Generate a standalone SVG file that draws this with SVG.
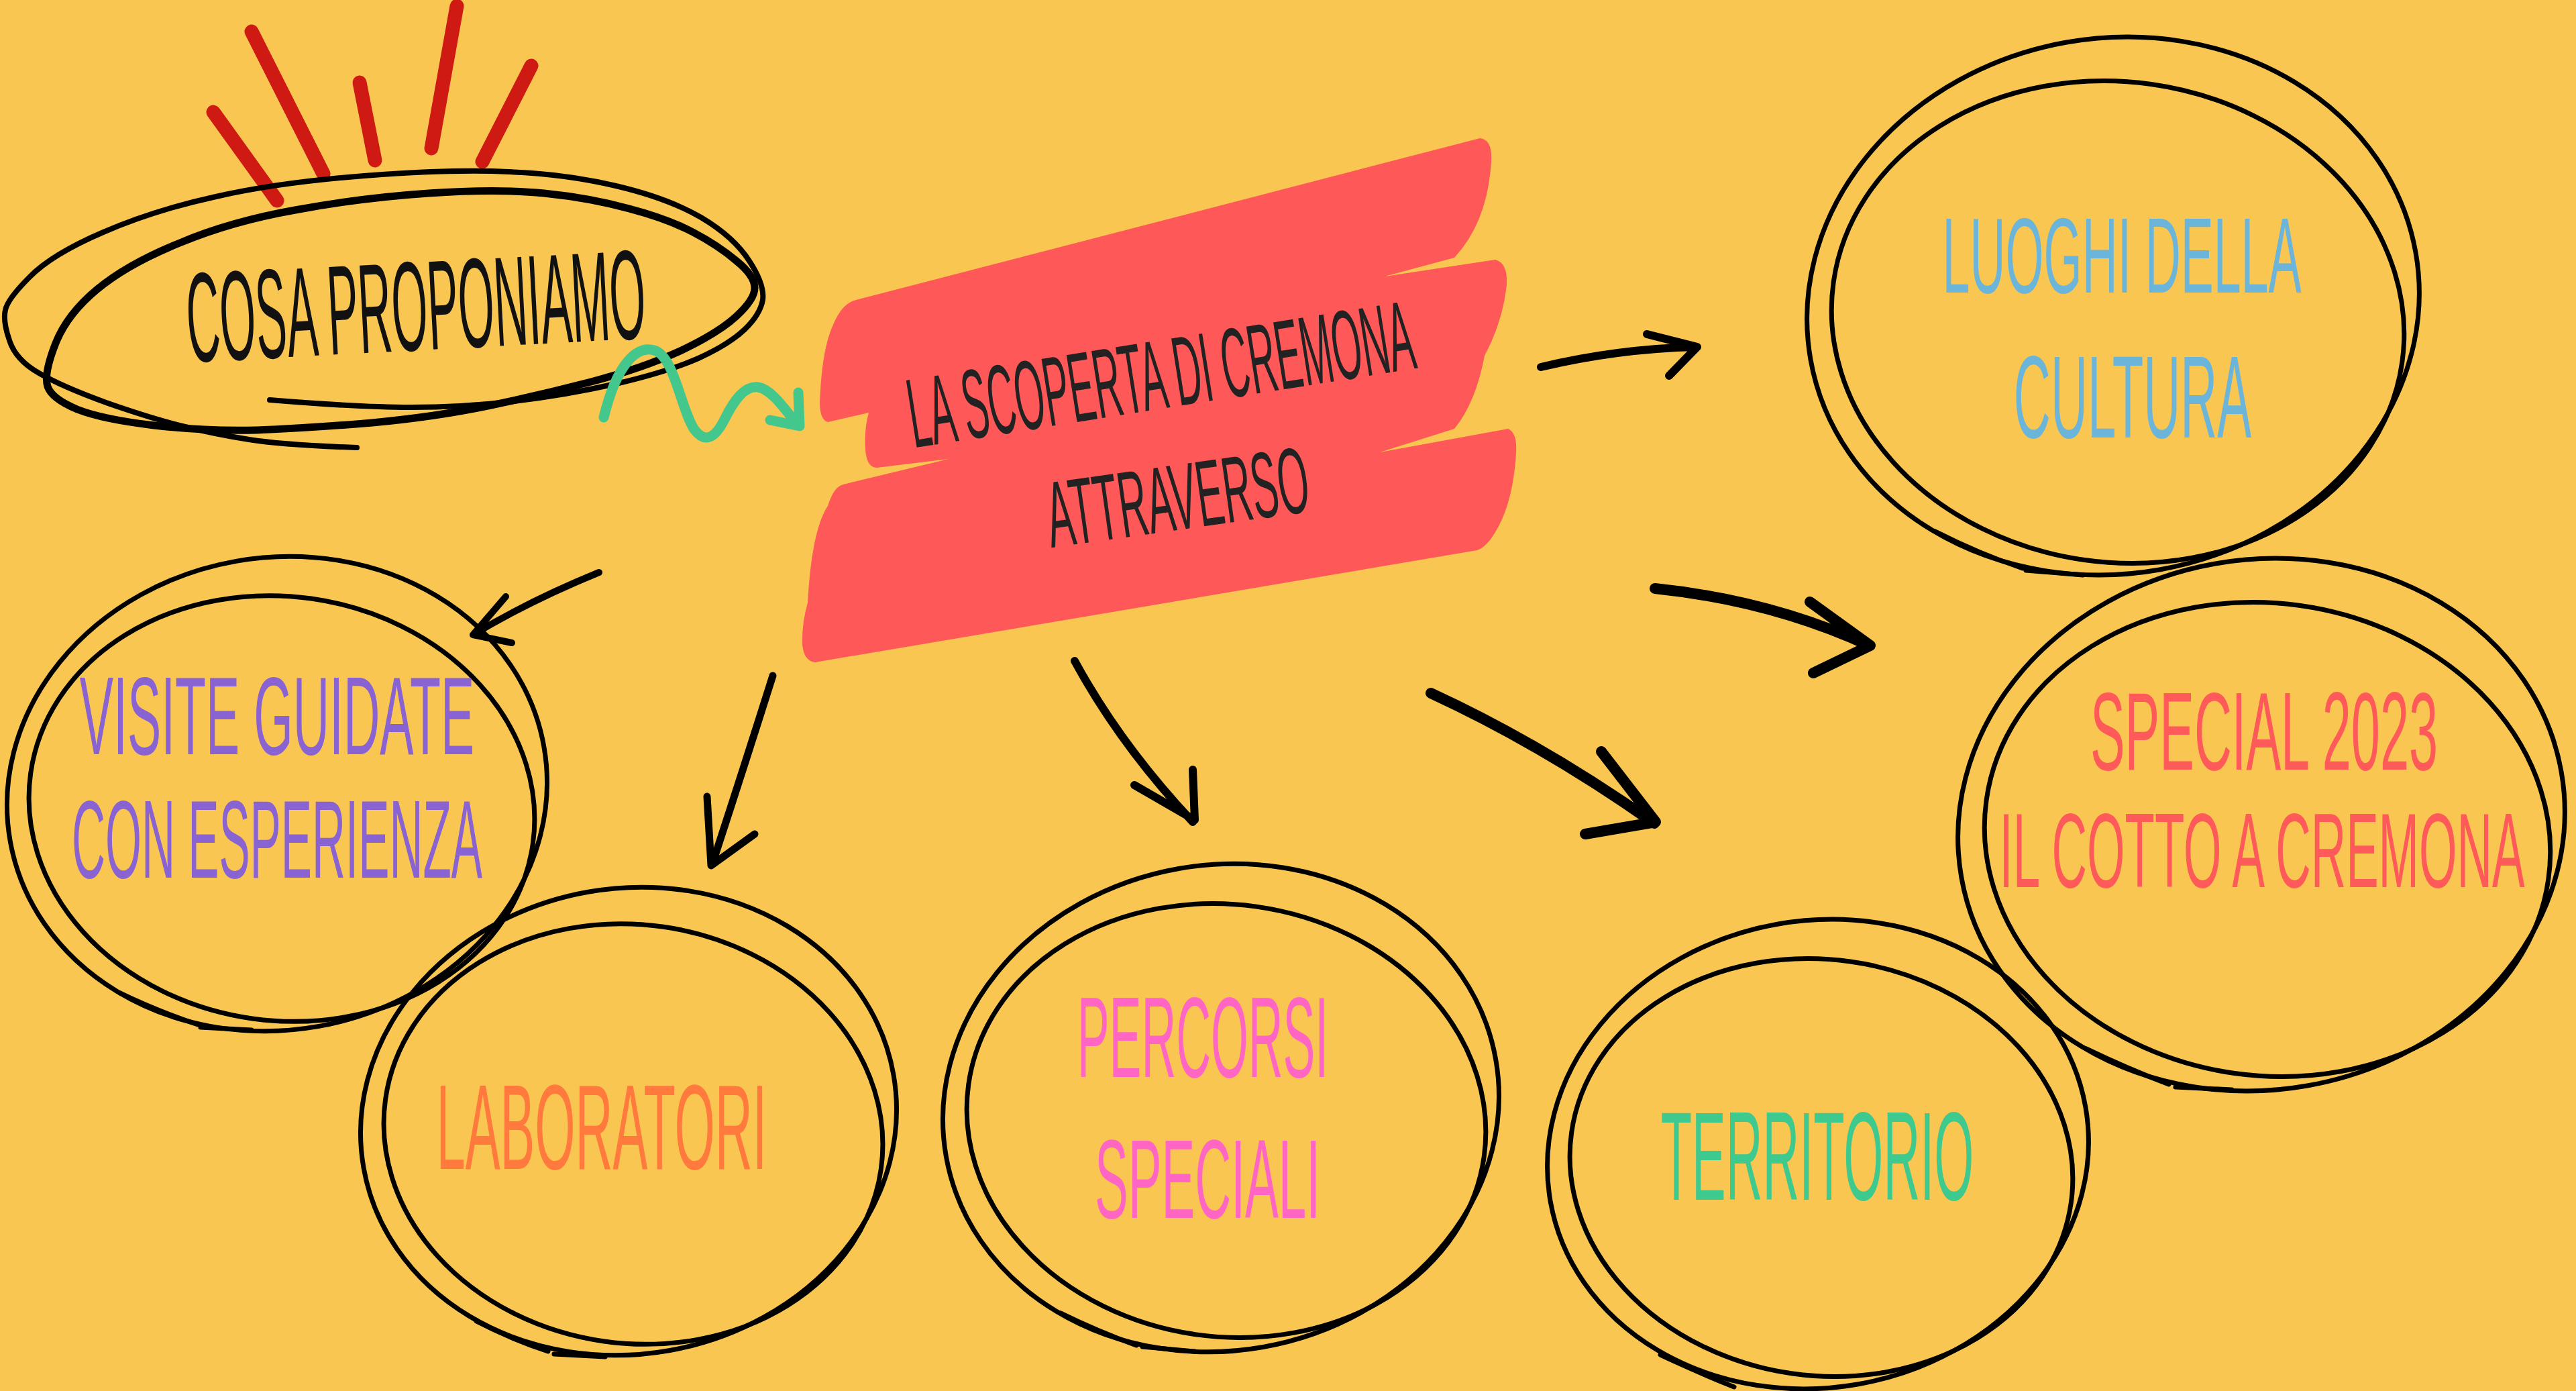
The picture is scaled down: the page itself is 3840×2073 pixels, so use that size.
<svg xmlns="http://www.w3.org/2000/svg" width="3840" height="2073" viewBox="0 0 3840 2073">
<style>
.ring{fill:none;stroke:#000;stroke-width:7}
.tail{fill:none;stroke:#000;stroke-width:7;stroke-linecap:round}
.conn{fill:none;stroke:#000;stroke-linecap:round;stroke-linejoin:round}
.wave{fill:none;stroke:#43C78D;stroke-width:15;stroke-linecap:round;stroke-linejoin:round}
.burst{fill:none;stroke:#CF1A14;stroke-width:21;stroke-linecap:round}
.lbl{font-family:'Liberation Sans',Arial,sans-serif;text-anchor:middle}
</style>
<rect width="3840" height="2073" fill="#FAC652"/>

<g id="burst">
<path class="burst" d="M318,167 L413,299"/>
<path class="burst" d="M375,47 L482,259"/>
<path class="burst" d="M536,123 L559,239"/>
<path class="burst" d="M681,9 L643,221"/>
<path class="burst" d="M792,98 L719,241"/>
</g>

<g id="node-cosa">
<path fill="none" stroke="#000" stroke-width="8" stroke-linecap="round" d="M402,596 Q536,607 612,607 Q689,607 766,598 Q842,589 918,572 Q995,554 1041,534 Q1087,513 1110,491 Q1133,469 1137,447 Q1140,424 1117,389 Q1094,353 1045,324 Q995,295 918,277 Q842,259 758,256 Q673,252 543,262 Q413,272 322,293 Q230,313 154,346 Q77,379 44,413 Q11,446 8,462 Q4,478 14,507 Q23,536 58,556 Q92,576 161,601 Q230,625 276,636 Q321,647 371,655 Q421,663 532,667"/>
<path fill="none" stroke="#000" stroke-width="11" d="M639,288 Q742,281 811,288 Q880,295 938,311 Q995,326 1033,346 Q1071,366 1098,389 Q1125,411 1125,429 Q1125,446 1098,471 Q1071,496 1014,523 Q957,549 881,569 Q804,589 727,605 Q650,621 555,630 Q459,638 383,641 Q306,643 230,634 Q153,625 115,610 Q77,594 71,576 Q65,558 82,514 Q99,469 145,431 Q191,393 268,362 Q344,330 440,313 Q536,295 639,288 Z"/>
<text class="lbl" font-size="190" fill="#111" transform="rotate(-3 620 460) translate(620 522) scale(0.3626 1)">COSA PROPONIAMO</text>
</g>

<g id="node-center">
<path fill="#FE5858" d="M1276,447 L2206,206 Q2225,208 2223,240 Q2218,330 2168,384 L2064,412 L2229,387 Q2248,392 2246,425 Q2240,480 2213,530 Q2200,600 2168,639 L2057,674 L2248,639 Q2262,645 2260,675 Q2255,760 2221,805 Q2210,818 2202,820 L1215,987 Q1198,985 1196,960 Q1195,930 1204,898 Q1210,790 1234,754 Q1243,725 1257,722 L1414,684 L1307,697 Q1292,697 1290,670 Q1288,640 1295,615 L1234,629 Q1222,625 1222,600 Q1225,520 1242,484 Q1255,452 1276,447 Z"/>
<text class="lbl" font-size="147" fill="#222" transform="rotate(-9 1738 608) translate(1738 608) scale(0.3847 1)">LA SCOPERTA DI CREMONA</text>
<text class="lbl" font-size="140" fill="#222" transform="rotate(-8 1762 789) translate(1762 789) scale(0.4236 1)">ATTRAVERSO</text>
</g>

<g id="node-luoghi">
<ellipse class="ring" cx="3150" cy="456" rx="458" ry="399" transform="rotate(-10 3150 456)"/>
<ellipse class="ring" cx="3157" cy="480" rx="428" ry="358" transform="rotate(8 3157 480)"/>
<path class="tail" d="M2885,792 Q2950,825 3015,847 M3020,850 L3105,857"/>
<text class="lbl" font-size="160" fill="#6BB5DB" transform="translate(3163 436) scale(0.4593 1)">LUOGHI DELLA</text>
<text class="lbl" font-size="175" fill="#6BB5DB" transform="translate(3179 652) scale(0.4356 1)">CULTURA</text>
</g>

<g id="node-visite">
<ellipse class="ring" cx="413" cy="1183" rx="404" ry="352" transform="rotate(-10 413 1183)"/>
<ellipse class="ring" cx="420" cy="1205" rx="378" ry="316" transform="rotate(8 420 1205)"/>
<path class="tail" d="M179,1480 Q235,1507 295,1527 M299,1531 L375,1535"/>
<text class="lbl" font-size="165" fill="#8A63D2" transform="translate(413 1124) scale(0.4562 1)">VISITE GUIDATE</text>
<text class="lbl" font-size="165" fill="#8A63D2" transform="translate(413 1308) scale(0.4198 1)">CON ESPERIENZA</text>
</g>

<g id="node-laboratori">
<ellipse class="ring" cx="937" cy="1671" rx="401" ry="347" transform="rotate(-10 937 1671)"/>
<ellipse class="ring" cx="944" cy="1690" rx="373" ry="312" transform="rotate(8 944 1690)"/>
<path class="tail" d="M710,1969 Q760,1995 817,2014 M826,2018 L902,2022"/>
<text class="lbl" font-size="180" fill="#FF7A3C" transform="translate(897 1742) scale(0.431 1)">LABORATORI</text>
</g>

<g id="node-percorsi">
<ellipse class="ring" cx="1820" cy="1651" rx="416" ry="362" transform="rotate(-10 1820 1651)"/>
<ellipse class="ring" cx="1828" cy="1670" rx="388" ry="322" transform="rotate(8 1828 1670)"/>
<path class="tail" d="M1581,1957 Q1636,1984 1694,2005 M1703,2007 L1781,2014"/>
<text class="lbl" font-size="170" fill="#FF66C4" transform="translate(1793 1605) scale(0.4217 1)">PERCORSI</text>
<text class="lbl" font-size="168" fill="#FF66C4" transform="translate(1800 1815) scale(0.4443 1)">SPECIALI</text>
</g>

<g id="node-territorio">
<ellipse class="ring" cx="2710" cy="1720" rx="405" ry="348" transform="rotate(-10 2710 1720)"/>
<ellipse class="ring" cx="2715" cy="1740" rx="376" ry="310" transform="rotate(8 2715 1740)"/>
<path class="tail" d="M2475,2019 Q2530,2045 2585,2067"/>
<text class="lbl" font-size="188" fill="#3EC98E" transform="translate(2709 1788) scale(0.4037 1)">TERRITORIO</text>
</g>

<g id="node-special">
<ellipse class="ring" cx="3371" cy="1229" rx="454" ry="395" transform="rotate(-10 3371 1229)"/>
<ellipse class="ring" cx="3380" cy="1251" rx="423" ry="352" transform="rotate(8 3380 1251)"/>
<path class="tail" d="M3110,1563 Q3170,1592 3233,1616 M3243,1620 L3327,1624"/>
<text class="lbl" font-size="165" fill="#FF5A5A" transform="translate(3375 1147) scale(0.4695 1)">SPECIAL 2023</text>
<text class="lbl" font-size="158" fill="#FF5A5A" transform="translate(3372 1322) scale(0.4597 1)">IL COTTO A CREMONA</text>
</g>

<g id="connectors">
<path class="wave" d="M900,622 C920,540 950,515 975,522 C1005,530 1015,610 1035,640 C1050,660 1065,655 1080,625 C1095,595 1110,575 1130,577 C1150,580 1170,610 1188,632 M1190,585 L1192,635 L1148,626"/>
<path class="conn" stroke-width="12" d="M2297,547 Q2410,520 2528,517 M2455,498 L2530,517 L2488,560"/>
<path class="conn" stroke-width="16" d="M2467,877 Q2640,895 2786,962 M2698,897 L2788,962 L2703,1003"/>
<path class="conn" stroke-width="16" d="M2133,1033 Q2300,1110 2466,1227 M2387,1120 L2468,1225 L2363,1243"/>
<path class="conn" stroke-width="12" d="M1602,985 Q1670,1110 1778,1225 M1778,1147 L1781,1222 L1691,1170"/>
<path class="conn" stroke-width="11" d="M1152,1007 Q1110,1140 1062,1287 M1054,1187 L1060,1290 L1125,1243"/>
<path class="conn" stroke-width="10" d="M893,853 Q790,895 705,946 M754,889 L705,946 L763,958"/>
</g>
</svg>
